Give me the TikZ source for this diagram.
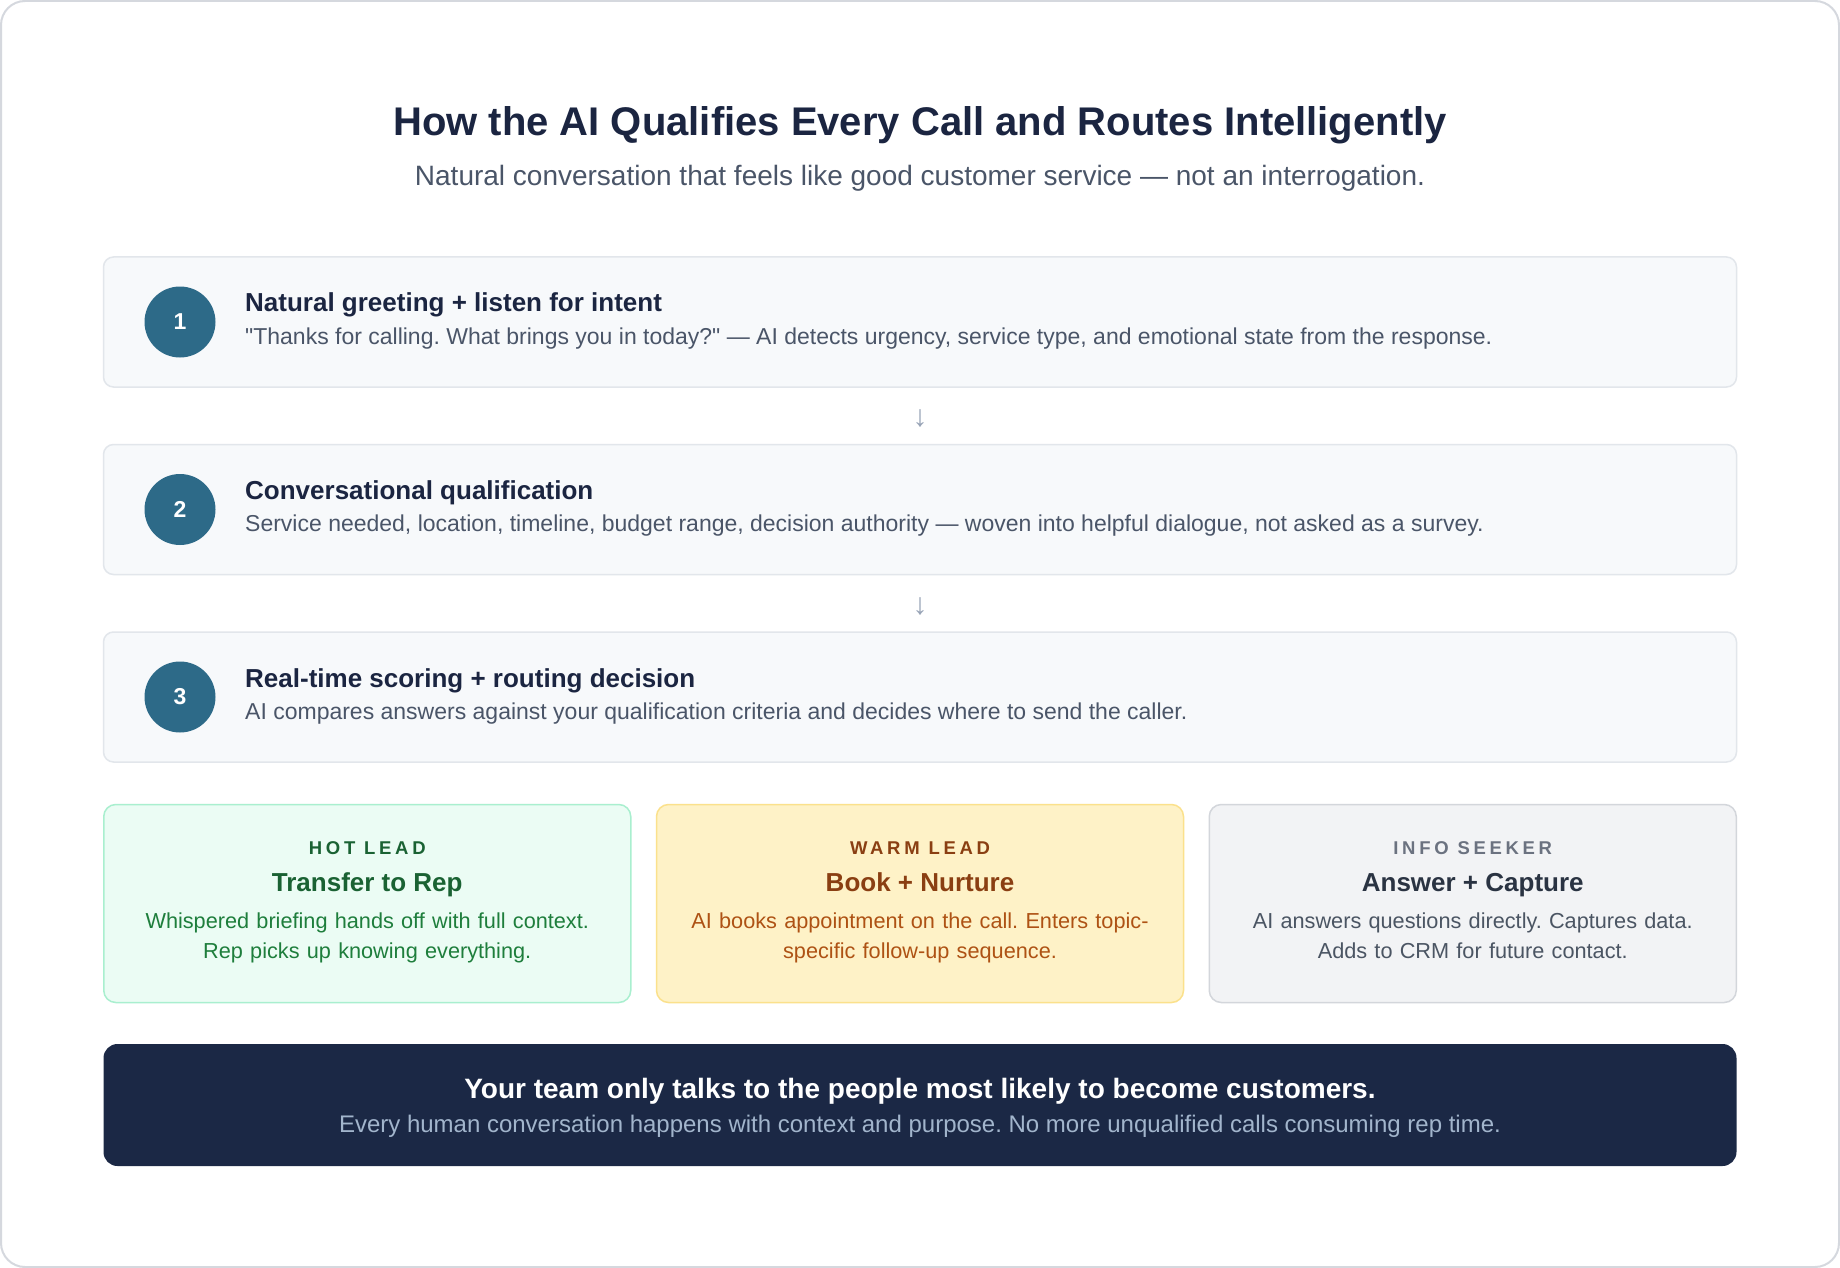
\documentclass[tikz,border=0pt]{standalone}
\usepackage{fontspec}
\setmainfont{Liberation Sans}[Ligatures=TeXOff]
\newfontfamily\capsfont[LetterSpace=20]{Liberation Sans}
\usetikzlibrary{positioning,calc}
\frenchspacing
\definecolor{ink}{HTML}{1B2541}
\definecolor{slate}{HTML}{4A5568}
\definecolor{framegray}{HTML}{D5D8DE}
\definecolor{stepfill}{HTML}{F7F9FB}
\definecolor{stepline}{HTML}{E2E6EB}
\definecolor{badgeblue}{HTML}{2D6A88}
\definecolor{arrowgray}{HTML}{97A3B6}
\definecolor{hotfill}{HTML}{EBFCF4}
\definecolor{hotline}{HTML}{A9EFCF}
\definecolor{hotdark}{HTML}{1A6233}
\definecolor{hottext}{HTML}{1E7E3C}
\definecolor{warmfill}{HTML}{FEF2C7}
\definecolor{warmline}{HTML}{FBE18C}
\definecolor{warmdark}{HTML}{8A3F12}
\definecolor{warmtext}{HTML}{AE5214}
\definecolor{infofill}{HTML}{F2F3F5}
\definecolor{infoline}{HTML}{D3D6DB}
\definecolor{infolab}{HTML}{6B7280}
\definecolor{infodark}{HTML}{2A3342}
\definecolor{infotext}{HTML}{4B5563}
\definecolor{navy}{HTML}{1B2845}
\definecolor{navytext}{HTML}{A2B5CC}
\tikzset{
  stepbox/.style={draw=stepline, fill=stepfill, line width=1.5pt, rounded corners=10pt,
                  minimum width=1633pt, minimum height=130pt, inner sep=0pt},
  badge/.style={circle, fill=badgeblue, minimum size=71pt, inner sep=0pt, text=white,
                font=\fontsize{23}{26}\selectfont\bfseries},
  steptitle/.style={anchor=base west, inner sep=0pt, text=ink, font=\fontsize{26}{30}\selectfont\bfseries},
  stepdesc/.style={anchor=base west, inner sep=0pt, text=slate, font=\fontsize{23}{27}\selectfont},
  downarr/.style={text=arrowgray, inner sep=0pt, font=\fontsize{30}{32}\selectfont},
  leadbox/.style={line width=1.5pt, rounded corners=12pt, minimum width=527pt, minimum height=198pt,
                  inner sep=0pt},
  hotbox/.style={leadbox, draw=hotline, fill=hotfill},
  warmbox/.style={leadbox, draw=warmline, fill=warmfill},
  infobox/.style={leadbox, draw=infoline, fill=infofill},
  leadtag/.style={anchor=base, inner sep=0pt, font=\capsfont\fontsize{18.5}{22}\selectfont\bfseries},
  leadhead/.style={anchor=base, inner sep=0pt, font=\fontsize{26}{30}\selectfont\bfseries},
  leadtext/.style={anchor=base, inner sep=0pt, align=center, text width=510pt,
                   font=\fontsize{21.7}{30}\selectfont},
  banner/.style={fill=navy, rounded corners=14pt, minimum width=1633pt, minimum height=122pt, inner sep=0pt},
}
\begin{document}
\begin{tikzpicture}[x=1pt, y=-1pt]
  \useasboundingbox (0,0) rectangle (1840,1268);
  \draw[framegray, line width=2pt, fill=white, rounded corners=24pt] (1,1) rectangle (1839,1267);

  % heading
  \node[anchor=base, inner sep=0pt, text=ink, font=\fontsize{40}{46}\selectfont\bfseries] (title) at (920,136)
    {How the AI Qualifies Every Call and Routes Intelligently};
  \node[anchor=base, inner sep=0pt, text=slate, font=\fontsize{28}{32}\selectfont] (subtitle) at (920,186)
    {Natural conversation that feels like good customer service — not an interrogation.};

  % the three steps
  \node[stepbox] (s1) at (920,322) {};
  \node[badge] (b1) at (180,322) {1};
  \node[steptitle] (t1) at (245,312) {Natural greeting + listen for intent};
  \node[stepdesc] (d1) at (245,344) {"Thanks for calling. What brings you in today?" — AI detects urgency, service type, and emotional state from the response.};

  \node[stepbox] (s2) at (920,509.5) {};
  \node[badge] (b2) at (180,509.5) {2};
  \node[steptitle] (t2) at (245,499.5) {Conversational qualification};
  \node[stepdesc] (d2) at (245,531.5) {Service needed, location, timeline, budget range, decision authority — woven into helpful dialogue, not asked as a survey.};

  \node[stepbox] (s3) at (920,697) {};
  \node[badge] (b3) at (180,697) {3};
  \node[steptitle] (t3) at (245,687) {Real-time scoring + routing decision};
  \node[stepdesc] (d3) at (245,719) {AI compares answers against your qualification criteria and decides where to send the caller.};

  \path (s1) -- (s2) node[downarr, midway, yshift=-3pt] (a12) {↓};
  \path (s2) -- (s3) node[downarr, midway, yshift=-3pt] (a23) {↓};

  % routing outcomes
  \node[hotbox] (hot) at (367.25,903.5) {};
  \node[leadtag, text=hotdark] (hotlab) at (367.25,854) {HOT LEAD};
  \node[leadhead, text=hotdark] (hothead) at (367.25,891) {Transfer to Rep};
  \node[leadtext, text=hottext] (hotdesc) at (367.25,928) {Whispered briefing hands off with full context.\\Rep picks up knowing everything.};

  \node[warmbox] (warm) at (920,903.5) {};
  \node[leadtag, text=warmdark] (warmlab) at (920,854) {WARM LEAD};
  \node[leadhead, text=warmdark] (warmhead) at (920,891) {Book + Nurture};
  \node[leadtext, text=warmtext] (warmdesc) at (920,928) {AI books appointment on the call. Enters topic-\\specific follow-up sequence.};

  \node[infobox] (info) at (1472.75,903.5) {};
  \node[leadtag, text=infolab] (infolab) at (1472.75,854) {INFO SEEKER};
  \node[leadhead, text=infodark] (infohead) at (1472.75,891) {Answer + Capture};
  \node[leadtext, text=infotext] (infodesc) at (1472.75,928) {AI answers questions directly. Captures data.\\Adds to CRM for future contact.};

  % closing banner
  \node[banner] (bn) at (920,1105) {};
  \node[anchor=base, inner sep=0pt, text=white, font=\fontsize{28}{32}\selectfont\bfseries] (bntitle) at (920,1098)
    {Your team only talks to the people most likely to become customers.};
  \node[anchor=base, inner sep=0pt, text=navytext, font=\fontsize{24}{28}\selectfont] (bnsub) at (920,1132)
    {Every human conversation happens with context and purpose. No more unqualified calls consuming rep time.};
\end{tikzpicture}
\end{document}
